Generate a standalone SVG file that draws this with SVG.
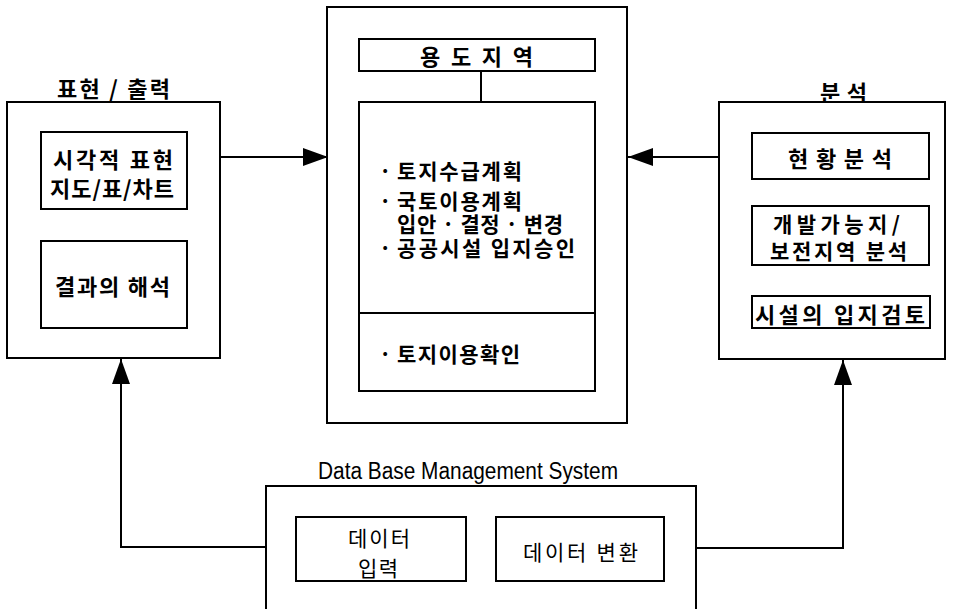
<svg xmlns="http://www.w3.org/2000/svg" width="956" height="609" viewBox="0 0 956 609">
  <defs>
    <style>
      .box { fill: #fff; stroke: #000; stroke-width: 2; }
      .line { fill: none; stroke: #000; stroke-width: 2; }
      .kr { font-family: "Noto Sans CJK KR", "Noto Sans", sans-serif; font-weight: bold; font-size: 22px; fill: #000; dominant-baseline: central; }
      .kr-list { font-family: "Noto Sans CJK KR", "Noto Sans", sans-serif; font-weight: bold; font-size: 21px; fill: #000; dominant-baseline: central; }
      .kr-thin { font-family: "Noto Sans CJK KR", "Noto Sans", sans-serif; font-weight: normal; font-size: 21px; fill: #000; dominant-baseline: central; }
      .en { font-family: "Liberation Sans", "Noto Sans", sans-serif; font-size: 23px; fill: #000; }
    </style>
    <marker id="arrow" markerUnits="userSpaceOnUse" markerWidth="26" markerHeight="18" refX="25" refY="9" orient="auto">
      <polygon points="0,0 25,9 0,18" fill="#000"/>
    </marker>
  </defs>

  <!-- connectors -->
  <g id="connectors">
    <line class="line" x1="220" y1="157" x2="328" y2="157" marker-end="url(#arrow)"/>
    <line class="line" x1="719" y1="157" x2="628" y2="157" marker-end="url(#arrow)"/>
    <path class="line" d="M266,547 H121 V359" marker-end="url(#arrow)"/>
    <path class="line" d="M696,548 H843 V360" marker-end="url(#arrow)"/>
  </g>

  <!-- output / presentation -->
  <g id="output">
    <text class="kr" x="57" y="87" textLength="113" lengthAdjust="spacing">표현 / 출력</text>
    <rect class="box" x="7" y="102" width="213" height="256"/>
    <rect class="box" x="41" y="132" width="146" height="77"/>
    <text class="kr" x="53" y="158" textLength="120" lengthAdjust="spacing">시각적 표현</text>
    <text class="kr" x="50" y="187" textLength="124" lengthAdjust="spacing">지도/표/차트</text>
    <rect class="box" x="41" y="241" width="146" height="87"/>
    <text class="kr" x="55" y="285" textLength="115" lengthAdjust="spacing">결과의 해석</text>
  </g>

  <!-- zoning -->
  <g id="zoning">
    <rect class="box" x="327" y="7" width="300" height="416"/>
    <rect class="box" x="359" y="39" width="236" height="32"/>
    <text class="kr" x="420" y="55" textLength="113" lengthAdjust="spacing">용 도 지 역</text>
    <line class="line" x1="481" y1="71" x2="481" y2="102"/>
    <rect class="box" x="359" y="102" width="236" height="289"/>
    <line class="line" x1="359" y1="313" x2="595" y2="313"/>
    <text class="kr-list" x="379" y="170">·</text>
    <text class="kr-list" x="397" y="170" textLength="125" lengthAdjust="spacing">토지수급계획</text>
    <text class="kr-list" x="379" y="200">·</text>
    <text class="kr-list" x="397" y="200" textLength="125" lengthAdjust="spacing">국토이용계획</text>
    <text class="kr-list" x="397" y="223" textLength="166" lengthAdjust="spacing">입안 · 결정 · 변경</text>
    <text class="kr-list" x="379" y="247">·</text>
    <text class="kr-list" x="397" y="247" textLength="178" lengthAdjust="spacing">공공시설 입지승인</text>
    <text class="kr-list" x="379" y="353">·</text>
    <text class="kr-list" x="397" y="353" textLength="123" lengthAdjust="spacing">토지이용확인</text>
  </g>

  <!-- analysis -->
  <g id="analysis">
    <text class="kr" x="820" y="91" textLength="47" lengthAdjust="spacing">분 석</text>
    <rect class="box" x="719" y="102" width="226" height="257"/>
    <rect class="box" x="752" y="133" width="177" height="46"/>
    <text class="kr" x="788" y="157" textLength="104" lengthAdjust="spacing">현황분석</text>
    <rect class="box" x="752" y="206" width="177" height="59"/>
    <text class="kr-list" x="773" y="223" textLength="127" lengthAdjust="spacing">개발가능지/</text>
    <text class="kr-list" x="770" y="250" textLength="137" lengthAdjust="spacing">보전지역 분석</text>
    <rect class="box" x="752" y="296" width="178" height="32"/>
    <text class="kr" x="755" y="313" textLength="170" lengthAdjust="spacing">시설의 입지검토</text>
  </g>

  <!-- database management system -->
  <g id="dbms">
    <text class="en" x="318" y="479" textLength="300" lengthAdjust="spacingAndGlyphs">Data Base Management System</text>
    <rect class="box" x="266" y="486" width="430" height="140"/>
    <rect class="box" x="296" y="517" width="170" height="64"/>
    <text class="kr-thin" x="348" y="537" textLength="62" lengthAdjust="spacing">데이터</text>
    <text class="kr-thin" x="358" y="567" textLength="40" lengthAdjust="spacing">입력</text>
    <rect class="box" x="496" y="517" width="168" height="64"/>
    <text class="kr-thin" x="523" y="551" textLength="115" lengthAdjust="spacing">데이터 변환</text>
  </g>
</svg>
